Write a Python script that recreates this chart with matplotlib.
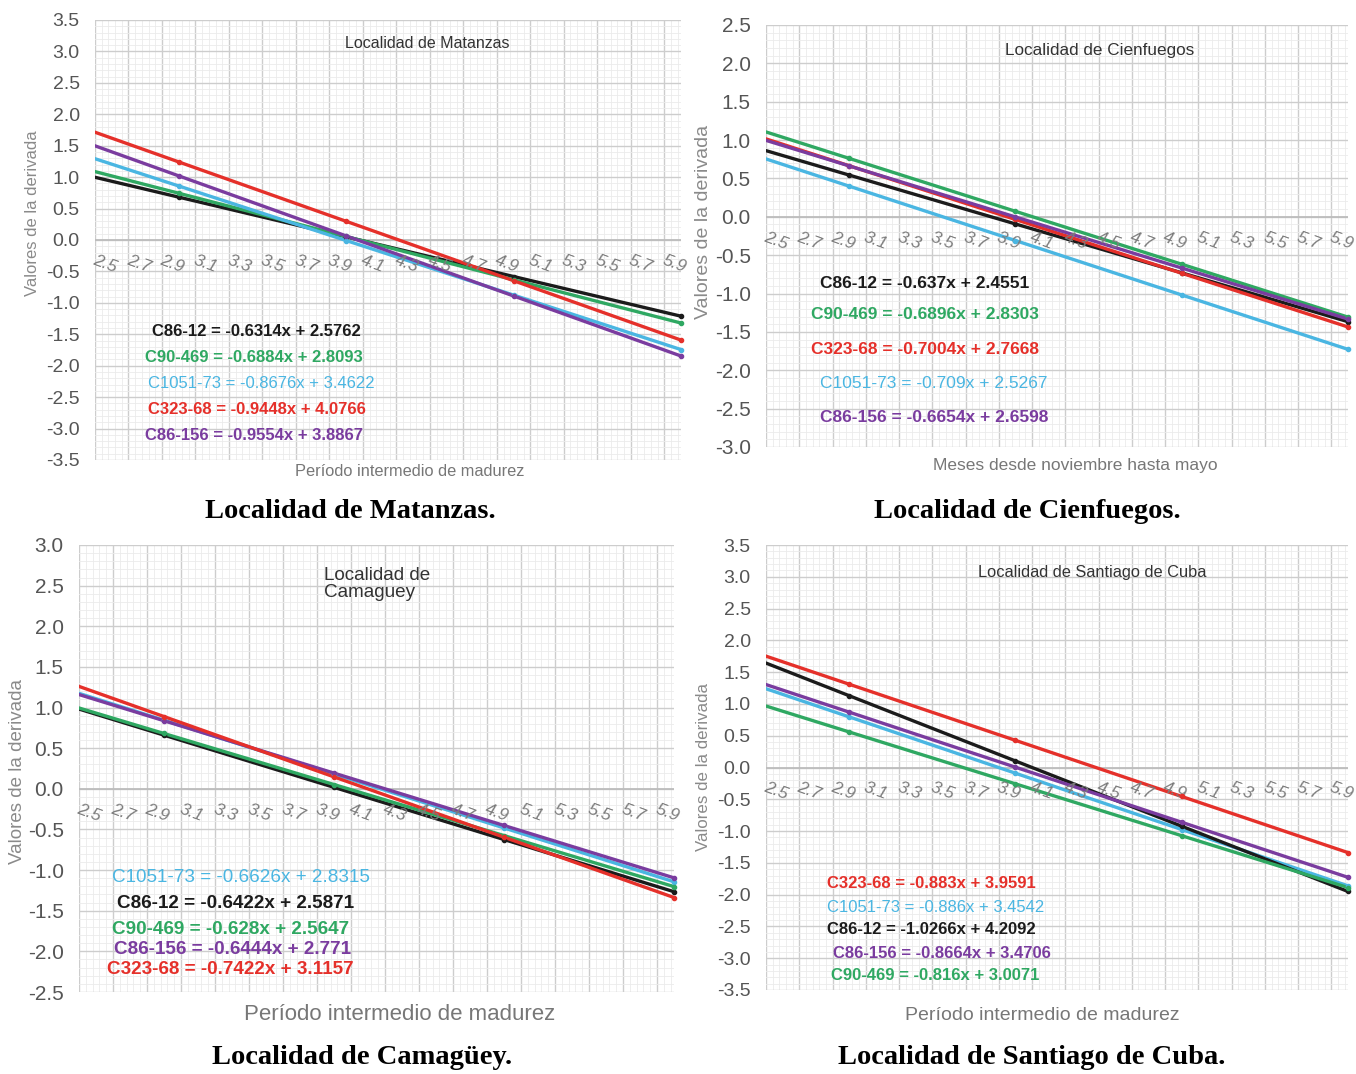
import numpy as np
import matplotlib
matplotlib.use("Agg")
import matplotlib.pyplot as plt
from matplotlib import font_manager
from matplotlib.ticker import MultipleLocator, FixedLocator, FormatStrFormatter

W, H = 1356, 1074

names_installed = {f.name for f in font_manager.fontManager.ttflist}
NARROW = "Liberation Sans Narrow" if "Liberation Sans Narrow" in names_installed else "Liberation Sans"
SANS = "Liberation Sans"
SERIF = "Liberation Serif"

BLACK = "#1b1b1b"
GREEN = "#2fa862"
BLUE = "#4ab6e2"
RED = "#e5302a"
PURPLE = "#7a3c9f"

# x axis tick labels (shared by all panels)
x_labels = ["2.5", "2.7", "2.9", "3.1", "3.3", "3.5", "3.7", "3.9", "4.1",
            "4.3", "4.5", "4.7", "4.9", "5.1", "5.3", "5.5", "5.7", "5.9"]
x_points = [3.0, 4.0, 5.0, 6.0]

# Matanzas
mat_names = ["C86-12", "C90-469", "C1051-73", "C323-68", "C86-156"]
mat_slope = [-0.6314, -0.6884, -0.8676, -0.9448, -0.9554]
mat_icpt = [2.5762, 2.8093, 3.4622, 4.0766, 3.8867]
mat_colors = [BLACK, GREEN, BLUE, RED, PURPLE]

# Cienfuegos
cie_names = ["C86-12", "C90-469", "C323-68", "C1051-73", "C86-156"]
cie_slope = [-0.637, -0.6896, -0.7004, -0.709, -0.6654]
cie_icpt = [2.4551, 2.8303, 2.7668, 2.5267, 2.6598]
cie_colors = [BLACK, GREEN, RED, BLUE, PURPLE]

# Camaguey
cam_names = ["C1051-73", "C86-12", "C90-469", "C86-156", "C323-68"]
cam_slope = [-0.6626, -0.6422, -0.628, -0.6444, -0.7422]
cam_icpt = [2.8315, 2.5871, 2.5647, 2.771, 3.1157]
cam_colors = [BLUE, BLACK, GREEN, PURPLE, RED]

# Santiago de Cuba
stg_names = ["C323-68", "C1051-73", "C86-12", "C86-156", "C90-469"]
stg_slope = [-0.883, -0.886, -1.0266, -0.8664, -0.816]
stg_icpt = [3.9591, 3.4542, 4.2092, 3.4706, 3.0071]
stg_colors = [RED, BLUE, BLACK, PURPLE, GREEN]


def fmt_eq(name, m, b):
    return f"{name} = {m:g}x + {b:g}"


fig = plt.figure(figsize=(W / 100, H / 100), dpi=100)
fig.patch.set_facecolor("white")


def ftext(x, y, s, **kw):
    fig.text(x / W, 1 - y / H, s, **kw)


def panel(box, ylim, names, slopes, icpts, colors, eq_pos, eq_size, ytick_size=14):
    l, t, r, b = box
    ax = fig.add_axes([l / W, 1 - b / H, (r - l) / W, (b - t) / H])
    ax.set_xlim(2.5, 6.0)
    ax.set_ylim(*ylim)
    ax.xaxis.set_major_locator(FixedLocator([float(s) for s in x_labels]))
    ax.xaxis.set_minor_locator(FixedLocator(np.arange(2.5, 6.001, 0.04)))
    ax.yaxis.set_major_locator(MultipleLocator(0.5))
    ax.yaxis.set_minor_locator(MultipleLocator(0.1))
    ax.yaxis.set_major_formatter(FormatStrFormatter("%.1f"))
    ax.grid(which="minor", color="#ebebeb", lw=0.6)
    ax.grid(which="major", color="#cdcdcd", lw=1.0)
    ax.set_axisbelow(True)
    for sp in ax.spines.values():
        sp.set_visible(False)
    ax.tick_params(which="both", length=0)
    ax.tick_params(axis="x", labelbottom=False)
    ax.tick_params(axis="y", pad=11, labelsize=ytick_size, labelcolor="#555555")
    for lab in ax.get_yticklabels():
        lab.set_fontfamily(SANS)
    ax.axhline(0, color="#bdbdbd", lw=1.3, zorder=1)

    for m, c0, col in zip(slopes, icpts, colors):
        ax.axline((0, c0), slope=m, color=col, lw=2.4, zorder=3)
        xp = np.array(x_points)
        ax.plot(xp, m * xp + c0, "o", ms=3, color=col, zorder=4, clip_on=False)

    for s in x_labels:
        ax.annotate(s, (float(s), 0), xytext=(1, -9), textcoords="offset points",
                    ha="left", va="top", rotation=-20, rotation_mode="anchor",
                    fontsize=12.5, color="#7c7c7c", style="italic", family=SANS,
                    annotation_clip=False)

    for (px, py), name, m, c0, col in zip(eq_pos, names, slopes, icpts, colors):
        weight = "normal" if col == BLUE else "bold"
        ftext(px, py, fmt_eq(name, m, c0), color=col, fontsize=eq_size,
              family=NARROW, weight=weight, ha="left", va="center")
    return ax


# Matanzas
panel((95, 20, 681, 460), (-3.5, 3.5), mat_names, mat_slope, mat_icpt, mat_colors,
      [(152, 332), (145, 357), (148, 383), (148, 410), (145, 435)], 12, 14)
ftext(427, 43, "Localidad de Matanzas", fontsize=11.5, family=NARROW, ha="center", va="center", color="#333333")
ftext(33, 213, "Valores de la derivada", fontsize=12, family=NARROW, rotation=90, ha="center", va="center", color="#8a8a8a")
ftext(410, 472, "Período intermedio de madurez", fontsize=11.8, family=NARROW, ha="center", va="center", color="#777777")
ftext(350, 511, "Localidad de Matanzas.", fontsize=20.5, family=SERIF, weight="bold", ha="center", va="center")

# Cienfuegos
panel((766, 25, 1348, 447), (-3.0, 2.5), cie_names, cie_slope, cie_icpt, cie_colors,
      [(820, 283), (811, 315), (811, 350), (820, 383), (820, 417)], 12.5, 15)
ftext(1100, 50, "Localidad de Cienfuegos", fontsize=12.3, family=NARROW, ha="center", va="center", color="#333333")
ftext(703, 222, "Valores de la derivada", fontsize=14, family=NARROW, rotation=90, ha="center", va="center", color="#8a8a8a")
ftext(1075, 466, "Meses desde noviembre hasta mayo", fontsize=12.5, family=NARROW, ha="center", va="center", color="#777777")
ftext(1027, 511, "Localidad de Cienfuegos.", fontsize=20.5, family=SERIF, weight="bold", ha="center", va="center")

# Camaguey
panel((79, 545, 674, 992), (-2.5, 3.0), cam_names, cam_slope, cam_icpt, cam_colors,
      [(112, 877), (117, 903), (112, 930), (114, 950), (107, 970)], 13.6, 15)
ftext(324, 584, "Localidad de\nCamaguey", fontsize=13.6, family=SANS, ha="left", va="center", color="#333333", linespacing=1.0)
ftext(18, 772, "Valores de la derivada", fontsize=13.5, family=SANS, rotation=90, ha="center", va="center", color="#8a8a8a")
ftext(400, 1015, "Período intermedio de madurez", fontsize=16, family=SANS, ha="center", va="center", color="#777777")
ftext(362, 1057, "Localidad de Camagüey.", fontsize=20.5, family=SERIF, weight="bold", ha="center", va="center")

# Santiago de Cuba
panel((766, 545, 1348, 990), (-3.5, 3.5), stg_names, stg_slope, stg_icpt, stg_colors,
      [(827, 883), (827, 908), (827, 930), (833, 953), (831, 976)], 12, 14)
ftext(1092, 573, "Localidad de Santiago de Cuba", fontsize=11.8, family=NARROW, ha="center", va="center", color="#333333")
ftext(703, 767, "Valores de la derivada", fontsize=12.2, family=NARROW, rotation=90, ha="center", va="center", color="#8a8a8a")
ftext(1042, 1015, "Período intermedio de madurez", fontsize=14, family=SANS, ha="center", va="center", color="#777777")
ftext(1032, 1057, "Localidad de Santiago de Cuba.", fontsize=20.5, family=SERIF, weight="bold", ha="center", va="center")

fig.savefig("out.png", dpi=100)
